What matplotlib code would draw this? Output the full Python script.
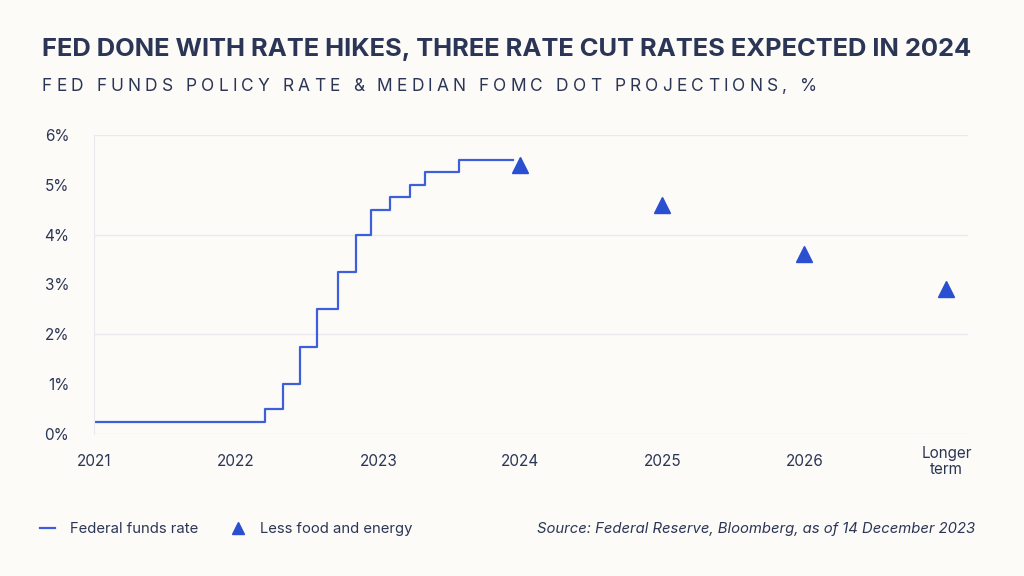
import numpy as np
import matplotlib.pyplot as plt
from matplotlib.lines import Line2D

# fed funds rate as drawn, step changes
ffr_dates = [2021.0, 2022.20, 2022.33, 2022.45, 2022.57, 2022.72, 2022.84,
             2022.95, 2023.08, 2023.22, 2023.33, 2023.57, 2023.95]
ffr_rate = [0.25, 0.5, 1.0, 1.75, 2.5, 3.25, 4.0, 4.5, 4.75, 5.0, 5.25, 5.5, 5.5]

# median FOMC projections
proj_x = [2024, 2025, 2026, 2027]
proj_val = [5.4, 4.6, 3.6, 2.9]

xtick_pos = [2021, 2022, 2023, 2024, 2025, 2026, 2027]
xtick_lab = ['2021', '2022', '2023', '2024', '2025', '2026', 'Longer\nterm']

title = 'FED DONE WITH RATE HIKES, THREE RATE CUT RATES EXPECTED IN 2024'
subtitle = 'FED FUNDS POLICY RATE & MEDIAN FOMC DOT PROJECTIONS, %'
source = 'Source: Federal Reserve, Bloomberg, as of 14 December 2023'

BG = '#fcfbf7'
NAVY = '#2b3556'
BLUE = '#3d5fdc'
TRI = '#2a4fd0'
GRID = '#e9e9ef'

plt.rcParams['font.family'] = ['Inter', 'DejaVu Sans']

fig = plt.figure(figsize=(10.24, 5.76), dpi=100, facecolor=BG)
ax = fig.add_axes([0.092, 0.2465, 0.853, 0.5195])
ax.set_facecolor(BG)

ax.step(ffr_dates, ffr_rate, where='post', color=BLUE, lw=1.6)
ax.plot(proj_x, proj_val, linestyle='none', marker='^', ms=11, color=TRI)

ax.set_xlim(2021, 2027.15)
ax.set_ylim(0, 6)
ax.set_yticks(range(0, 7))
ax.set_yticklabels([f'{v}%' for v in range(0, 7)])
ax.set_xticks(xtick_pos)
ax.set_xticklabels(xtick_lab, linespacing=1.05)
for v in [0, 2, 4, 6]:
    ax.axhline(v, color=GRID, lw=1, zorder=0)
for s in ['top', 'right', 'bottom']:
    ax.spines[s].set_visible(False)
ax.spines['left'].set_color(GRID)
ax.tick_params(length=0, colors=NAVY, labelsize=11)
ax.tick_params(axis='y', pad=18)
ax.tick_params(axis='x', pad=20)
for lab in ax.get_xticklabels():
    lab.set_verticalalignment('center')

fig.text(0.041, 0.914, title, color=NAVY, fontsize=18.4, fontweight='bold', va='center')

# subtitle is letter-spaced in the original: lay it out char by char
renderer = fig.canvas.get_renderer()
x = 0.041
for ch in subtitle:
    t = fig.text(x, 0.849, ch, color=NAVY, fontsize=12.5, va='center')
    w = t.get_window_extent(renderer).width if ch != ' ' else 4.5
    x += (w + 4.2) / fig.bbox.width

handles = [Line2D([], [], color=BLUE, lw=1.6),
           Line2D([], [], linestyle='none', marker='^', ms=9, color=TRI)]
fig.legend(handles, ['Federal funds rate', 'Less food and energy'],
           loc='center left', bbox_to_anchor=(0.026, 0.082), ncol=2, frameon=False,
           fontsize=10.7, labelcolor=NAVY, handlelength=1.0, handletextpad=1.0,
           columnspacing=2.2)
fig.text(0.952, 0.082, source, color=NAVY, fontsize=10.7, style='italic',
         ha='right', va='center')

fig.savefig('out.png', dpi=100, facecolor=BG)
